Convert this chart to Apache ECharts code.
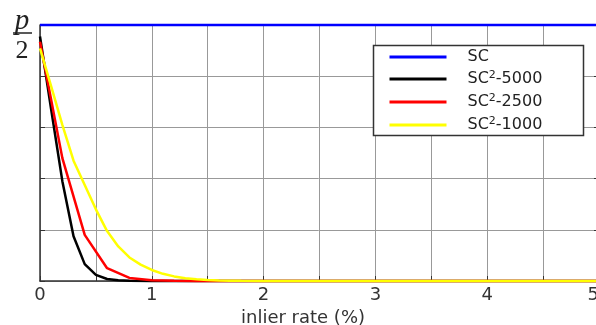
<!DOCTYPE html>
<html><head><meta charset="utf-8">
<script src="https://cdn.jsdelivr.net/npm/echarts@6/dist/echarts.min.js"></script>
<style>html,body{margin:0;padding:0;background:#fff}#c{width:596px;height:325px}</style>
</head><body><div id="c"></div>
<script>
const xTicks = [0, 1, 2, 3, 4, 5];
const seriesNames = ['SC', 'SC2-5000', 'SC2-2500', 'SC2-1000'];
const xSC = [0, 5];
const ySC = [1, 1];
const xBlack = [0, 0.1, 0.2, 0.3, 0.4, 0.5, 0.6, 0.7, 0.8, 1.0, 5];
const yBlack = [0.955, 0.67, 0.39, 0.175, 0.066, 0.024, 0.008, 0.003, 0.001, 0, 0];
const xRed = [0, 0.2, 0.4, 0.6, 0.8, 1.0, 1.2, 1.4, 5];
const yRed = [0.935, 0.48, 0.18, 0.05, 0.012, 0.003, 0.001, 0, 0];
const xYellow = [0, 0.1, 0.2, 0.3, 0.4, 0.5, 0.6, 0.7, 0.8, 0.9, 1.0, 1.1, 1.2, 1.3, 1.4, 1.5, 1.6, 1.7, 1.8, 2.0, 5];
const yYellow = [0.909, 0.76, 0.61, 0.47, 0.375, 0.28, 0.195, 0.135, 0.092, 0.064, 0.043, 0.028, 0.018, 0.011, 0.007, 0.004, 0.002, 0.001, 0.0005, 0, 0];

const pairs = (xs, ys) => xs.map((x, i) => [x, ys[i]]);
const colors = ['#0000ff', '#000000', '#ff0000', '#ffff00'];
const data = [pairs(xSC, ySC), pairs(xBlack, yBlack), pairs(xRed, yRed), pairs(xYellow, yYellow)];
const widths = [2.5, 2.5, 2.5, 2.5];

const chart = echarts.init(document.getElementById('c'), null, {renderer: 'canvas'});
const font = 'DejaVu Sans';
chart.setOption({
  animation: false,
  backgroundColor: '#fff',
  grid: {left: 40, top: 25, right: -3, bottom: 44, containLabel: false, outerBoundsMode: 'none'},
  xAxis: {
    type: 'value', min: 0, max: 5, interval: 0.5,
    axisLine: {lineStyle: {color: '#333', width: 1.5}},
    axisTick: {inside: true, length: 5, lineStyle: {color: '#333'}},
    splitLine: {show: true, lineStyle: {color: '#999', width: 1}},
    axisLabel: {
      margin: 5, color: '#333', fontFamily: font, fontSize: 18, alignMaxLabel: 'right',
      formatter: v => (xTicks.indexOf(v) >= 0 ? String(v) : '')
    },
    name: 'inlier rate (%)', nameLocation: 'middle', nameGap: 26,
    nameTextStyle: {color: '#333', fontFamily: font, fontSize: 18, padding: [0, 33, 0, 0]}
  },
  yAxis: [{
    type: 'value', min: 0, max: 1, interval: 0.2,
    axisLine: {show: true, lineStyle: {color: '#333', width: 1.5}},
    axisTick: {show: true, inside: true, length: 5, lineStyle: {color: '#333'}},
    splitLine: {show: true, lineStyle: {color: '#999', width: 1}},
    axisLabel: {show: false}
  }, {
    type: 'value', min: 0, max: 1, interval: 0.2, position: 'right',
    axisLine: {show: true, lineStyle: {color: '#333', width: 1.5}},
    axisTick: {show: true, inside: true, length: 5, lineStyle: {color: '#333'}},
    splitLine: {show: false},
    axisLabel: {show: false}
  }],
  legend: {
    orient: 'vertical', left: 388, top: 48, padding: 0,
    itemWidth: 57, itemHeight: 14, itemGap: 4,
    data: seriesNames,
    itemStyle: {opacity: 0},
    lineStyle: {width: 3},
    formatter: n => n.replace('SC2', 'SC{s|2}'),
    textStyle: {
      color: '#222', fontFamily: font, fontSize: 16, lineHeight: 18, padding: [0, 0, 0, 16],
      rich: {s: {fontFamily: font, fontSize: 11, verticalAlign: 'top', lineHeight: 12, padding: [0, 0, 8, 0]}}
    }
  },
  graphic: [
    {type: 'rect', z: 3, shape: {x: 373.5, y: 45.5, width: 210, height: 90},
     style: {fill: '#fff', stroke: '#333', lineWidth: 1.5}},
    {type: 'text', z: 5, x: 22, y: 21, style: {text: 'p', font: 'italic 29px "Liberation Serif"', fill: '#222', align: 'center', verticalAlign: 'middle'}},
    {type: 'line', z: 5, shape: {x1: 13, y1: 33, x2: 32, y2: 33}, style: {stroke: '#222', lineWidth: 1.5}},
    {type: 'text', z: 5, x: 22, y: 51, style: {text: '2', font: '26px "Liberation Serif"', fill: '#222', align: 'center', verticalAlign: 'middle'}}
  ],
  series: seriesNames.map((n, i) => ({
    name: n, type: 'line', data: data[i], symbol: 'none', clip: false,
    lineStyle: {color: colors[i], width: widths[i]}, itemStyle: {color: colors[i]},
    z: 2 + i * 0.1
  }))
});
</script></body></html>
